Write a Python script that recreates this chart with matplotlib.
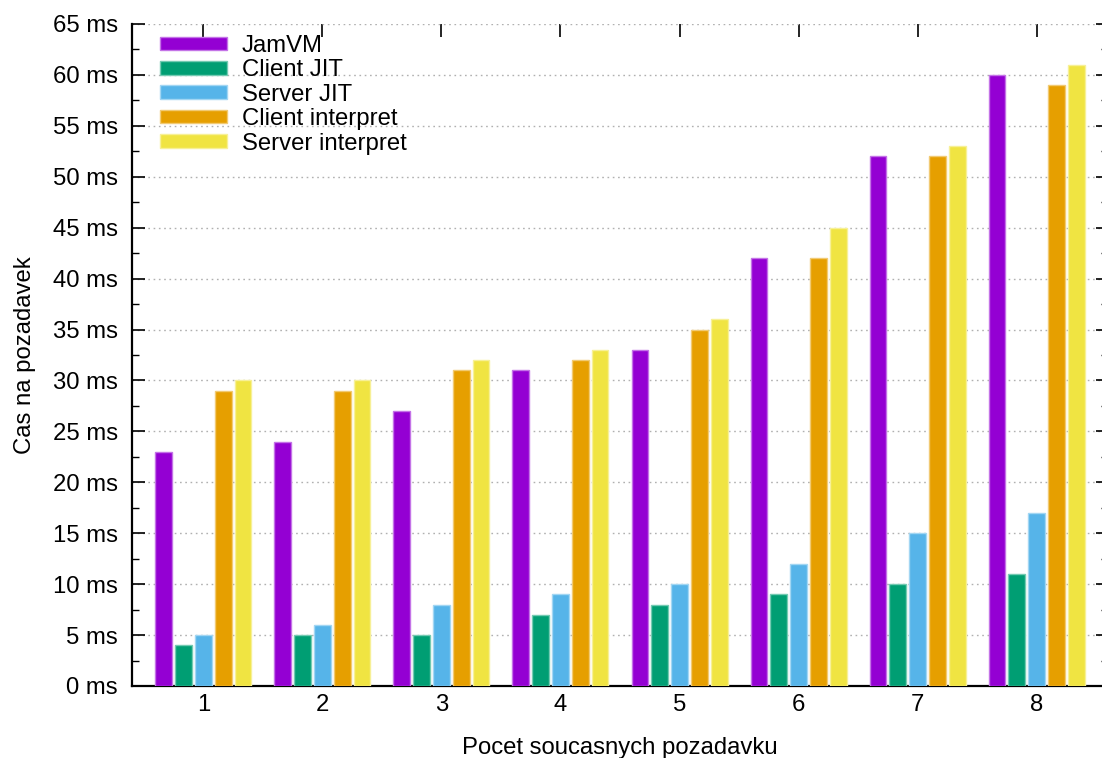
import numpy as np
import matplotlib
matplotlib.use("Agg")
import matplotlib.pyplot as plt
from matplotlib.ticker import MultipleLocator, FuncFormatter

# data
categories = [1, 2, 3, 4, 5, 6, 7, 8]
series_names = ["JamVM", "Client JIT", "Server JIT", "Client interpret", "Server interpret"]
jamvm = [23, 24, 27, 31, 33, 42, 52, 60]
client_jit = [4, 5, 5, 7, 8, 9, 10, 11]
server_jit = [5, 6, 8, 9, 10, 12, 15, 17]
client_interp = [29, 29, 31, 32, 35, 42, 52, 59]
server_interp = [30, 30, 32, 33, 36, 45, 53, 61]
colors = ["#9400D3", "#009E73", "#56B4E9", "#E69F00", "#F0E442"]

plt.rcParams['font.family'] = ['Liberation Sans', 'DejaVu Sans']
FS = 17.2

fig = plt.figure(figsize=(11.02, 7.58), dpi=100)
ax = fig.add_axes([132 / 1102, 72 / 758, 976 / 1102, 662 / 758])

x = np.array(categories, dtype=float)
step = 1 / 6
width = 0.14
all_series = [jamvm, client_jit, server_jit, client_interp, server_interp]
for i, (vals, name, c) in enumerate(zip(all_series, series_names, colors)):
    rgb = np.array(matplotlib.colors.to_rgb(c))
    edge = rgb + (1 - rgb) * 0.45
    ax.bar(x + (i - 2) * step, vals, width, color=c, edgecolor=edge,
           linewidth=1.0, label=name, zorder=3)

ax.set_xlim(0.4, 8.6)
ax.set_ylim(0, 65)
ax.set_xticks(categories)
ax.yaxis.set_major_locator(MultipleLocator(5))
ax.yaxis.set_minor_locator(MultipleLocator(2.5))
ax.yaxis.set_major_formatter(FuncFormatter(lambda v, p: f"{v:.0f} ms"))

ax.grid(axis='y', which='major', color='#b0b0b0', linestyle=(0, (1.2, 2.6)),
        linewidth=1.0, zorder=0)
ax.set_axisbelow(True)

for s in ['top', 'right']:
    ax.spines[s].set_visible(False)
for s in ['left', 'bottom']:
    ax.spines[s].set_linewidth(1.6)

ax.tick_params(axis='both', which='major', direction='in', length=9, width=1.2,
               labelsize=FS)
ax.tick_params(axis='y', which='minor', direction='in', length=5, width=1.0)
ax.tick_params(axis='x', top=True, pad=6)
ax.tick_params(axis='y', which='both', right=True, pad=10)

ax.set_xlabel("Pocet soucasnych pozadavku", fontsize=FS, labelpad=15)
ax.set_ylabel("Cas na pozadavek", fontsize=FS, labelpad=12)

ax.legend(loc='upper left', bbox_to_anchor=(160 / 1102, 1 - 35 / 758),
          bbox_transform=fig.transFigure, frameon=False, fontsize=FS,
          borderpad=0, borderaxespad=0, handlelength=2.8, handleheight=0.5,
          handletextpad=0.62, labelspacing=0.1)

fig.savefig("out.png", dpi=100)
